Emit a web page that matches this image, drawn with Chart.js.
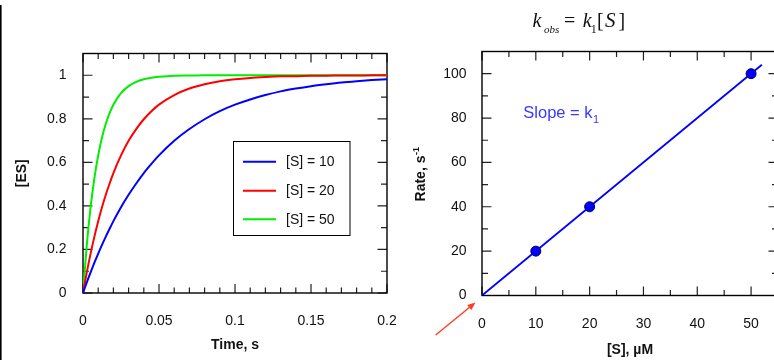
<!DOCTYPE html>
<html><head><meta charset="utf-8">
<script src="https://cdn.jsdelivr.net/npm/chart.js@4"></script>
<style>
html,body{margin:0;padding:0;background:#fff;overflow:hidden;width:774px;height:360px;}
#wrap{position:relative;width:774px;height:360px;overflow:hidden;background:#fff;}
#c1{position:absolute;left:0;top:0;}
#c2{position:absolute;left:400px;top:0;}
</style></head><body>
<div id="wrap"><canvas id="c1" width="400" height="360"></canvas><canvas id="c2" width="390" height="360"></canvas></div>
<script>
// ---- Left panel data: fraction [ES] vs time ----
const timeS   = [0,0.0025,0.005,0.0075,0.01,0.0125,0.015,0.0175,0.02,0.025,0.03,0.035,0.04,0.045,0.05,0.06,0.07,0.08,0.09,0.1,0.11,0.12,0.13,0.14,0.15,0.16,0.17,0.18,0.19,0.2];
const esS10   = [0,0.049,0.095,0.139,0.181,0.221,0.259,0.295,0.330,0.394,0.451,0.503,0.551,0.593,0.632,0.699,0.753,0.798,0.835,0.865,0.889,0.909,0.926,0.939,0.950,0.959,0.967,0.973,0.978,0.982];
const esS20   = [0,0.095,0.181,0.259,0.330,0.394,0.451,0.503,0.551,0.632,0.699,0.753,0.798,0.835,0.865,0.909,0.939,0.959,0.973,0.982,0.988,0.992,0.995,0.996,0.998,0.998,0.999,0.999,1.000,1.000];
const esS50   = [0,0.221,0.394,0.528,0.632,0.714,0.777,0.826,0.865,0.918,0.950,0.970,0.982,0.989,0.993,0.998,0.999,1.000,1.000,1.000,1.000,1.000,1.000,1.000,1.000,1.000,1.000,1.000,1.000,1.000];
const seriesLabels = ['[S] = 10','[S] = 20','[S] = 50'];
const leftXTicks = [0,0.05,0.1,0.15,0.2];
const leftXTickLabels = ['0','0.05','0.1','0.15','0.2'];
const leftXMinor = [0.01,0.02,0.03,0.04,0.06,0.07,0.08,0.09,0.11,0.12,0.13,0.14,0.16,0.17,0.18,0.19];
const leftYTicks = [0,0.2,0.4,0.6,0.8,1];
const leftYTickLabels = ['0','0.2','0.4','0.6','0.8','1'];
const leftYMinor = [0.1,0.3,0.5,0.7,0.9];

// ---- Right panel data: observed rate vs [S] ----
const substrateUM = [10,20,50];
const rateObs     = [20,40,100];
const fitX = [0,52];
const fitY = [0,104];
const rightXTicks = [0,10,20,30,40,50];
const rightXTickLabels = ['0','10','20','30','40','50'];
const rightXMinor = [5,15,25,35,45,55];
const rightYTicks = [0,20,40,60,80,100];
const rightYTickLabels = ['0','20','40','60','80','100'];
const rightYMinor = [10,30,50,70,90,110];

const SANS = '"Liberation Sans", Arial, sans-serif';
const SERIF = '"Liberation Serif", "Times New Roman", serif';
const TXT = '#111';

function noPad(s){ s.paddingLeft = 0; s.paddingRight = 0; s.paddingTop = 0; s.paddingBottom = 0; }

function framePlugin(xMaj, xMin, yMaj, yMin){
  return {
    id:'frame',
    beforeDatasetsDraw(chart){
      const {ctx, chartArea:a, scales:{x, y}} = chart;
      ctx.save();
      ctx.strokeStyle = '#222'; ctx.lineWidth = 1.2;
      ctx.beginPath();
      const tx = (vals, len) => vals.forEach(v => { const p = x.getPixelForValue(v);
        ctx.moveTo(p, a.bottom); ctx.lineTo(p, a.bottom - len);
        ctx.moveTo(p, a.top); ctx.lineTo(p, a.top + len); });
      const ty = (vals, len) => vals.forEach(v => { const p = y.getPixelForValue(v);
        ctx.moveTo(a.left, p); ctx.lineTo(a.left + len, p);
        ctx.moveTo(a.right, p); ctx.lineTo(a.right - len, p); });
      tx(xMaj, 9); tx(xMin, 5.5); ty(yMaj, 9.5); ty(yMin, 6);
      ctx.stroke();
      ctx.strokeStyle = '#000'; ctx.lineWidth = 1.4;
      ctx.strokeRect(a.left, a.top, a.right - a.left, a.bottom - a.top);
      ctx.restore();
    }
  };
}

const legendPlugin = {
  id:'boxLegend',
  afterDraw(chart){
    const ctx = chart.ctx;
    ctx.save();
    ctx.fillStyle = '#fff';
    ctx.fillRect(233.5, 141.5, 116.5, 94);
    ctx.strokeStyle = '#000'; ctx.lineWidth = 1;
    ctx.strokeRect(233.5, 141.5, 116.5, 94);
    const rows = [161.7, 190.7, 219.2];
    ctx.font = '14px ' + SANS; ctx.textBaseline = 'middle'; ctx.textAlign = 'left';
    chart.data.datasets.forEach((ds, i) => {
      ctx.strokeStyle = ds.borderColor; ctx.lineWidth = 2;
      ctx.beginPath(); ctx.moveTo(243, rows[i]); ctx.lineTo(276, rows[i]); ctx.stroke();
      ctx.fillStyle = TXT; ctx.fillText(ds.label, 286, rows[i] + 0.5);
    });
    // slide edge line
    ctx.fillStyle = '#000'; ctx.fillRect(0, 5, 1.6, 355);
    ctx.restore();
  }
};

new Chart(document.getElementById('c1'), {
  type:'line',
  data:{ datasets:[
    {label:seriesLabels[0], data:timeS.map((t,i)=>({x:t,y:esS10[i]})), borderColor:'#0000ff'},
    {label:seriesLabels[1], data:timeS.map((t,i)=>({x:t,y:esS20[i]})), borderColor:'#ff0000'},
    {label:seriesLabels[2], data:timeS.map((t,i)=>({x:t,y:esS50[i]})), borderColor:'#00ee00'}
  ]},
  options:{
    responsive:false, animation:false, devicePixelRatio:1,
    layout:{padding:{left:0,right:13,top:53.5,bottom:0}},
    elements:{line:{borderWidth:2, cubicInterpolationMode:'monotone', fill:false}, point:{radius:0}},
    plugins:{legend:{display:false}, tooltip:{enabled:false}},
    scales:{
      x:{type:'linear', min:0, max:0.2,
        afterBuildTicks:s=>{ s.ticks = leftXTicks.map(v=>({value:v})); },
        afterFit:s=>{ s.height = 67; noPad(s); },
        grid:{display:false, drawTicks:false}, border:{display:false},
        ticks:{padding:20, color:TXT, font:{family:SANS,size:14}, maxRotation:0, autoSkip:false,
          callback:(v,i)=>leftXTickLabels[i]},
        title:{display:true, text:'Time, s', color:TXT, font:{family:SANS,size:14,weight:'bold'}, padding:{top:0,bottom:6.6}}
      },
      y:{type:'linear', min:0, max:1.1,
        afterBuildTicks:s=>{ s.ticks = leftYTicks.map(v=>({value:v})); },
        afterFit:s=>{ s.width = 83; noPad(s); },
        grid:{display:false, drawTicks:false}, border:{display:false},
        ticks:{padding:16.5, color:TXT, font:{family:SANS,size:14}, autoSkip:false,
          callback:(v,i)=>leftYTickLabels[i]},
        title:{display:true, text:'[ES]', color:TXT, font:{family:SANS,size:14,weight:'bold'}, padding:{top:13.3,bottom:0}}
      }
    }
  },
  plugins:[framePlugin(leftXTicks, leftXMinor, leftYTicks, leftYMinor), legendPlugin]
});

const annotPlugin = {
  id:'annot',
  afterDraw(chart){
    const ctx = chart.ctx;
    ctx.save();
    // equation k_obs = k_1[S]
    ctx.fillStyle = '#111'; ctx.textBaseline = 'alphabetic'; ctx.textAlign = 'left';
    const base = 26.7, sub = 32.8;
    ctx.font = 'italic 20px ' + SERIF; ctx.fillText('k', 132.5, base);
    ctx.font = 'italic 11px ' + SERIF; ctx.fillText('obs', 144, sub);
    ctx.font = '20px ' + SERIF; ctx.fillText('=', 164, base);
    ctx.font = 'italic 20px ' + SERIF; ctx.fillText('k', 182.8, base);
    ctx.font = '12px ' + SERIF; ctx.fillText('1', 190.8, sub);
    ctx.font = '20px ' + SERIF; ctx.fillText('[', 197, base);
    ctx.font = 'italic 21px ' + SERIF; ctx.fillText('S', 205, base);
    ctx.font = '20px ' + SERIF; ctx.fillText(']', 218.5, base);
    // Slope = k1
    ctx.fillStyle = '#3838ff';
    ctx.font = '16.5px ' + SANS; ctx.fillText('Slope = k', 123.3, 118.3);
    const w = ctx.measureText('Slope = k').width;
    ctx.font = '11px ' + SANS; ctx.fillText('1', 123.3 + w + 0.5, 122.5);
    // y-axis title Rate, s^-1
    ctx.fillStyle = TXT;
    ctx.translate(25, 174.5); ctx.rotate(-Math.PI/2);
    ctx.font = 'bold 14px ' + SANS;
    const w1 = ctx.measureText('Rate, s').width;
    ctx.font = 'bold 9px ' + SANS;
    const w2 = ctx.measureText('-1').width;
    const x0 = -(w1 + w2) / 2;
    ctx.font = 'bold 14px ' + SANS; ctx.fillText('Rate, s', x0, 0);
    ctx.font = 'bold 9px ' + SANS; ctx.fillText('-1', x0 + w1 + 0.5, -6);
    ctx.setTransform(1,0,0,1,0,0);
    // red arrow pointing at origin
    ctx.strokeStyle = '#ff3d1f'; ctx.fillStyle = '#ff3d1f'; ctx.lineWidth = 1.4;
    const tx0 = 35.7, ty0 = 335, tx1 = 75.5, ty1 = 302.5;
    const ang = Math.atan2(ty1 - ty0, tx1 - tx0);
    ctx.beginPath(); ctx.moveTo(tx0, ty0);
    ctx.lineTo(tx1 - 6*Math.cos(ang), ty1 - 6*Math.sin(ang)); ctx.stroke();
    ctx.beginPath(); ctx.moveTo(tx1, ty1);
    ctx.lineTo(tx1 - 8*Math.cos(ang) + 3.2*Math.sin(ang), ty1 - 8*Math.sin(ang) - 3.2*Math.cos(ang));
    ctx.lineTo(tx1 - 8*Math.cos(ang) - 3.2*Math.sin(ang), ty1 - 8*Math.sin(ang) + 3.2*Math.cos(ang));
    ctx.closePath(); ctx.fill();
    ctx.restore();
  }
};

new Chart(document.getElementById('c2'), {
  type:'scatter',
  data:{ datasets:[
    {label:'fit', data:fitX.map((v,i)=>({x:v,y:fitY[i]})), showLine:true, borderColor:'#0000ff', borderWidth:1.8, pointRadius:0, order:2},
    {label:'k_obs', data:substrateUM.map((v,i)=>({x:v,y:rateObs[i]})), backgroundColor:'#0000ff', borderColor:'#000050', borderWidth:1, pointRadius:5, order:1}
  ]},
  options:{
    responsive:false, animation:false, devicePixelRatio:1,
    layout:{padding:{left:0,right:12,top:51.5,bottom:0}},
    plugins:{legend:{display:false}, tooltip:{enabled:false}},
    scales:{
      x:{type:'linear', min:0, max:55,
        afterBuildTicks:s=>{ s.ticks = rightXTicks.map(v=>({value:v})); },
        afterFit:s=>{ s.height = 64.5; noPad(s); },
        grid:{display:false, drawTicks:false}, border:{display:false},
        ticks:{padding:20.5, color:TXT, font:{family:SANS,size:14}, maxRotation:0, autoSkip:false,
          callback:(v,i)=>rightXTickLabels[i]},
        title:{display:true, text:'[S], µM', color:TXT, font:{family:SANS,size:14,weight:'bold'}, padding:{top:0,bottom:1.6}}
      },
      y:{type:'linear', min:0, max:110,
        afterBuildTicks:s=>{ s.ticks = rightYTicks.map(v=>({value:v})); },
        afterFit:s=>{ s.width = 82; noPad(s); },
        grid:{display:false, drawTicks:false}, border:{display:false},
        ticks:{padding:15.5, color:TXT, font:{family:SANS,size:14}, autoSkip:false,
          callback:(v,i)=>rightYTickLabels[i]},
        title:{display:false}
      }
    }
  },
  plugins:[framePlugin(rightXTicks, rightXMinor, rightYTicks, rightYMinor), annotPlugin]
});
</script>
</body></html>
